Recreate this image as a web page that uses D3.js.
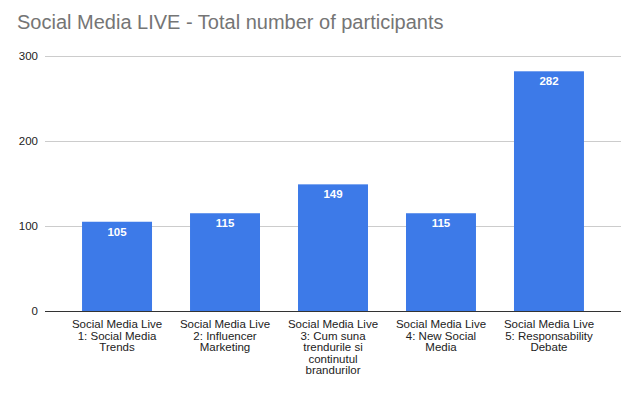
<!DOCTYPE html>
<html>
<head>
<meta charset="utf-8">
<script src="https://cdn.jsdelivr.net/npm/d3@7"></script>
<style>
  body { margin: 0; background: #fff; }
  text { font-family: "Liberation Sans", Arial, sans-serif; }
</style>
</head>
<body>
<div id="chart"></div>
<script>
const categories = [
  ["Social Media Live", "1: Social Media", "Trends"],
  ["Social Media Live", "2: Influencer", "Marketing"],
  ["Social Media Live", "3: Cum suna", "trendurile si", "continutul", "brandurilor"],
  ["Social Media Live", "4: New Social", "Media"],
  ["Social Media Live", "5: Responsability", "Debate"]
];
const values = [105, 115, 149, 115, 282];
const yTicks = [0, 100, 200, 300];

const svgWidth = 638, svgHeight = 394;

const svg = d3.select("#chart").append("svg")
  .attr("width", svgWidth)
  .attr("height", svgHeight);

// title
svg.append("text")
  .attr("x", 17)
  .attr("y", 29)
  .attr("font-size", 20)
  .attr("fill", "#757575")
  .text("Social Media LIVE - Total number of participants");

const xscale = d3.scaleBand()
  .domain(d3.range(values.length))
  .range([45, 621])
  .paddingInner(0.352)
  .paddingOuter(0.343);

const yscale = d3.scaleLinear()
  .domain([0, 300])
  .range([311, 56]);

// gridlines
svg.append("g")
  .selectAll("line")
  .data(yTicks.filter(d => d > 0))
  .join("line")
  .attr("x1", 45).attr("x2", 621)
  .attr("y1", d => yscale(d)).attr("y2", d => yscale(d))
  .attr("stroke", "#cccccc")
  .attr("stroke-width", 1)
  .attr("shape-rendering", "crispEdges");

// y tick labels
svg.append("g")
  .selectAll("text")
  .data(yTicks)
  .join("text")
  .attr("x", 38)
  .attr("y", d => yscale(d) + 4)
  .attr("text-anchor", "end")
  .attr("font-size", 11.5)
  .attr("fill", "#222")
  .text(d => d);

// bars
svg.append("g")
  .selectAll("rect")
  .data(values)
  .join("rect")
  .attr("x", (d, i) => xscale(i))
  .attr("y", d => yscale(d))
  .attr("width", xscale.bandwidth())
  .attr("height", d => yscale(0) - yscale(d))
  .attr("fill", "#3d7ae8");

// value labels
svg.append("g")
  .selectAll("text")
  .data(values)
  .join("text")
  .attr("x", (d, i) => xscale(i) + xscale.bandwidth() / 2)
  .attr("y", d => yscale(d) + 14)
  .attr("text-anchor", "middle")
  .attr("font-size", 11.5)
  .attr("font-weight", "bold")
  .attr("fill", "#fff")
  .text(d => d);

// baseline
svg.append("line")
  .attr("x1", 45).attr("x2", 621)
  .attr("y1", yscale(0)).attr("y2", yscale(0))
  .attr("stroke", "#333")
  .attr("shape-rendering", "crispEdges");

// category labels
const cat = svg.append("g")
  .selectAll("text")
  .data(categories)
  .join("text")
  .attr("text-anchor", "middle")
  .attr("font-size", 11.5)
  .attr("fill", "#222");

cat.selectAll("tspan")
  .data((d, i) => d.map(line => ({line, i})))
  .join("tspan")
  .attr("x", d => xscale(d.i) + xscale.bandwidth() / 2)
  .attr("y", (d, j) => 328 + j * 11.5)
  .text(d => d.line);
</script>
</body>
</html>
